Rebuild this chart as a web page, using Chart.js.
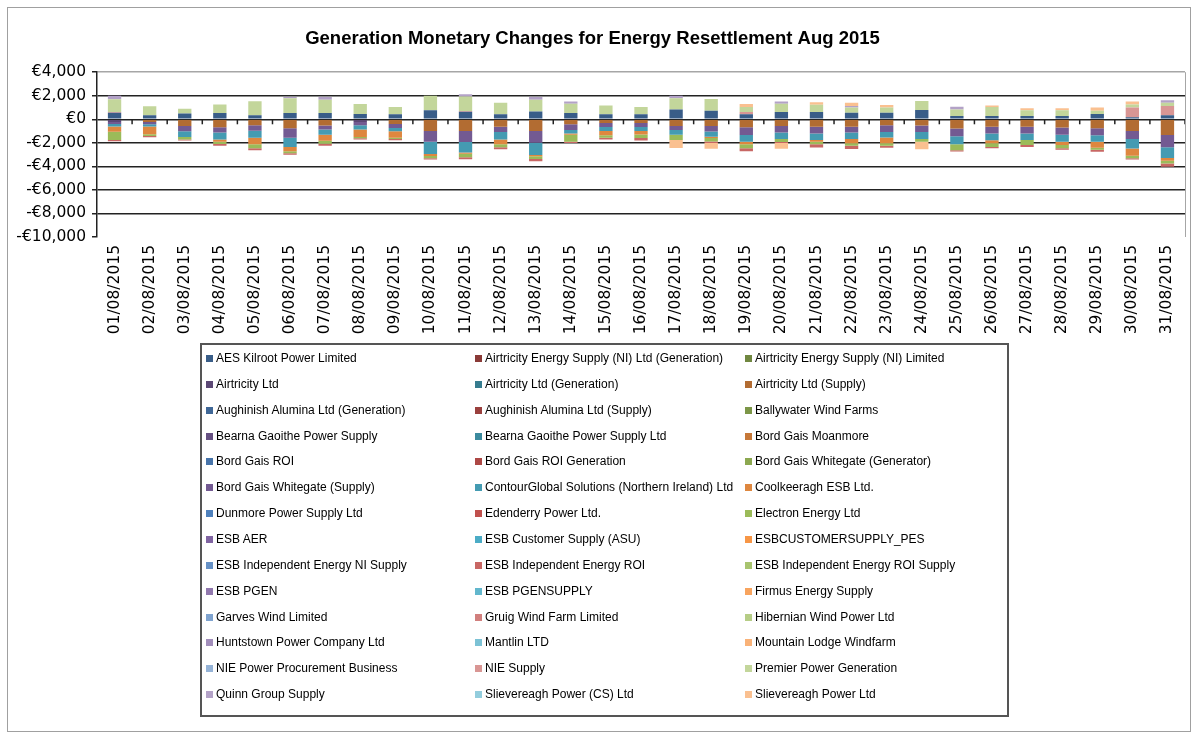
<!DOCTYPE html>
<html>
<head>
<meta charset="utf-8">
<title>Generation Monetary Changes</title>
<script src="https://cdn.jsdelivr.net/npm/chart.js@4.4.1/dist/chart.umd.min.js"></script>
<style>
  html, body { margin: 0; padding: 0; background: #fff; }
  #wrap { position: relative; width: 1198px; height: 738px; overflow: hidden; }
  #frame { position: absolute; left: 7px; top: 7px; width: 1182px; height: 723px; border: 1px solid #a0a0a0; }
  #chart { position: absolute; left: 0; top: 0; }
  #legend { position: absolute; left: 200px; top: 343px; width: 809px; height: 374px; border: 2px solid #555;
            box-sizing: border-box; font-family: "Liberation Sans", Arial, sans-serif; font-size: 12px; color: #000; }
  .item { position: absolute; white-space: nowrap; line-height: 14px; }
  .item span { display: inline-block; width: 7px; height: 7px; margin-right: 3px; vertical-align: 0px; }
</style>
</head>
<body>
<div id="wrap">
  <div id="frame"></div>
  <canvas id="chart" width="1198" height="738"></canvas>
  <div id="legend"></div>
</div>
<script>
const chartTitle = 'Generation Monetary Changes for Energy Resettlement Aug 2015';

const days = ['01/08/2015','02/08/2015','03/08/2015','04/08/2015','05/08/2015','06/08/2015','07/08/2015',
  '08/08/2015','09/08/2015','10/08/2015','11/08/2015','12/08/2015','13/08/2015','14/08/2015','15/08/2015',
  '16/08/2015','17/08/2015','18/08/2015','19/08/2015','20/08/2015','21/08/2015','22/08/2015','23/08/2015',
  '24/08/2015','25/08/2015','26/08/2015','27/08/2015','28/08/2015','29/08/2015','30/08/2015','31/08/2015'];

const seriesNames = [
  'AES Kilroot Power Limited', 'Airtricity  Energy Supply (NI) Ltd (Generation)', 'Airtricity Energy Supply (NI) Limited',
  'Airtricity Ltd', 'Airtricity Ltd (Generation)', 'Airtricity Ltd (Supply)',
  'Aughinish Alumina Ltd (Generation)', 'Aughinish Alumina Ltd (Supply)', 'Ballywater Wind Farms',
  'Bearna Gaoithe Power Supply', 'Bearna Gaoithe Power Supply Ltd', 'Bord Gais Moanmore',
  'Bord Gais ROI', 'Bord Gais ROI Generation', 'Bord Gais Whitegate (Generator)',
  'Bord Gais Whitegate (Supply)', 'ContourGlobal Solutions (Northern Ireland) Ltd', 'Coolkeeragh ESB Ltd.',
  'Dunmore Power Supply Ltd', 'Edenderry Power Ltd.', 'Electron Energy Ltd',
  'ESB AER', 'ESB Customer Supply (ASU)', 'ESBCUSTOMERSUPPLY_PES',
  'ESB Independent Energy NI Supply', 'ESB Independent Energy ROI', 'ESB Independent Energy ROI Supply',
  'ESB PGEN', 'ESB PGENSUPPLY', 'Firmus Energy Supply',
  'Garves Wind Limited', 'Gruig Wind Farm Limited', 'Hibernian Wind Power Ltd',
  'Huntstown Power Company Ltd', 'Mantlin LTD', 'Mountain Lodge Windfarm',
  'NIE Power Procurement Business', 'NIE Supply', 'Premier Power Generation',
  'Quinn Group Supply', 'Slievereagh Power (CS) Ltd', 'Slievereagh Power Ltd'
];

// values (EUR); series not listed show no visible change
const aesKilroot = [560,340,500,530,340,530,530,450,420,760,640,420,670,530,420,420,840,730,420,620,620,560,560,780,280,280,280,280,450,170,340];
const airtricityLtd = [-220,0,0,0,0,0,0,-220,0,0,0,0,0,0,0,0,0,0,0,0,0,0,0,0,0,0,0,0,0,0,0];
const airtricitySupply = [0,-220,-560,-670,-500,-760,-530,0,-390,-1000,-1000,-640,-1000,-420,-310,-310,-560,-560,-670,-560,-640,-640,-500,-530,-780,-640,-640,-700,-760,-1000,-1340];
const whitegateSupply = [-170,-200,-450,-450,-480,-810,-340,-280,-340,-900,-920,-450,-1000,-480,-340,-340,-360,-480,-670,-560,-560,-480,-590,-560,-670,-560,-560,-620,-590,-670,-1040];
const contourGlobal = [-220,-200,-490,-590,-590,-780,-450,-360,-280,-1040,-900,-620,-1040,-310,-340,-340,-390,-450,-560,-560,-560,-560,-450,-590,-670,-590,-560,-590,-560,-810,-900];
const coolkeeragh = [-450,-650,0,-200,-560,-360,-500,-640,-560,-170,-110,-420,-110,-110,-360,-310,0,-110,-220,0,-140,-360,-500,0,0,-250,0,-280,-500,-620,-250];
const electron = [-700,-140,-220,-200,-340,-170,-250,-110,-110,-200,-300,-250,-220,-590,-220,-280,-450,-280,-340,-250,-220,-200,-200,-220,-500,-310,-420,-280,-170,-200,-220];
const esbIndepROI = [-110,-110,-80,-140,-170,-140,-170,-110,-110,-110,-170,-170,-200,-110,-140,-220,0,-140,-250,-80,-280,-280,-170,0,-110,-110,-170,-110,-170,-110,-280];
const nieSupply = [60,0,0,0,0,0,0,0,0,0,60,0,0,0,0,0,0,0,200,0,0,0,0,0,0,0,0,0,0,840,780];
const premierPower = [1090,760,390,730,1200,1260,1120,840,620,1230,1230,980,980,780,760,620,950,1000,420,700,620,450,450,780,560,760,480,480,280,250,280];
const quinnGroup = [280,0,0,0,0,100,250,0,0,0,200,0,250,200,0,0,200,0,0,200,0,110,0,0,220,0,0,0,0,0,220];
const slievereaghPower = [0,0,0,0,0,0,0,0,0,0,0,0,0,0,0,0,-670,-480,250,-500,200,280,200,-640,0,140,170,170,280,250,0];
const noChange = Array(days.length).fill(0);

const valuesByName = {
  'AES Kilroot Power Limited': aesKilroot,
  'Airtricity Ltd': airtricityLtd,
  'Airtricity Ltd (Supply)': airtricitySupply,
  'Bord Gais Whitegate (Supply)': whitegateSupply,
  'ContourGlobal Solutions (Northern Ireland) Ltd': contourGlobal,
  'Coolkeeragh ESB Ltd.': coolkeeragh,
  'Electron Energy Ltd': electron,
  'ESB Independent Energy ROI': esbIndepROI,
  'NIE Supply': nieSupply,
  'Premier Power Generation': premierPower,
  'Quinn Group Supply': quinnGroup,
  'Slievereagh Power Ltd': slievereaghPower
};

// Excel 2007 palette: 6 accents, darker shades first, lighter tints last
const accents = [[79,129,189],[192,80,77],[155,187,89],[128,100,162],[75,172,198],[247,150,70]];
const shadeSteps = [-0.28, -0.2, -0.1, 0, 0.13, 0.27, 0.4];
function seriesColor(i) {
  const base = accents[i % 6];
  const s = shadeSteps[Math.floor(i / 6)];
  const rgb = base.map(c => Math.round(s < 0 ? c * (1 + s) : c + (255 - c) * s));
  return 'rgb(' + rgb.join(',') + ')';
}

const datasets = seriesNames.map((name, i) => ({
  label: name,
  data: valuesByName[name] || noChange,
  backgroundColor: seriesColor(i),
  borderWidth: 0,
  stack: 'gen'
}));

const euro = v => (v < 0 ? '-' : '') + '\u20AC' + Math.abs(v).toLocaleString('en-US');

const categoryTicks = {
  id: 'categoryTicks',
  afterDraw(chart) {
    const { ctx, chartArea, scales: { y } } = chart;
    const y0 = y.getPixelForValue(0);
    const n = chart.data.labels.length;
    const w = chart.chartArea.right - chart.chartArea.left;
    ctx.save();
    ctx.strokeStyle = '#222';
    ctx.lineWidth = 1.5;
    for (let i = 1; i <= n; i++) {
      const px = chartArea.left + w * i / n;
      ctx.beginPath();
      ctx.moveTo(px, y0);
      ctx.lineTo(px, y0 + 5);
      ctx.stroke();
    }
    ctx.strokeStyle = '#a6a6a6';
    ctx.lineWidth = 1;
    ctx.beginPath();
    ctx.moveTo(chartArea.right + 0.5, chartArea.top);
    ctx.lineTo(chartArea.right + 0.5, chartArea.bottom);
    ctx.stroke();
    ctx.restore();
  }
};

const axisFont = { family: 'DejaVu Sans', size: 15.5 };

const chart = new Chart(document.getElementById('chart'), {
  type: 'bar',
  data: { labels: days, datasets: datasets },
  options: {
    responsive: false,
    animation: false,
    layout: { padding: { left: 0, right: 13, top: 0, bottom: 391 } },
    datasets: { bar: { categoryPercentage: 1, barPercentage: 0.38 } },
    plugins: {
      legend: { display: false },
      tooltip: { enabled: false },
      title: {
        display: true,
        text: chartTitle,
        color: '#000',
        font: { family: 'Liberation Sans', size: 18.5, weight: 'bold' },
        padding: { top: 28, bottom: 22 }
      }
    },
    scales: {
      x: {
        stacked: true,
        grid: { display: false, drawTicks: false },
        border: { display: false },
        ticks: { minRotation: 90, maxRotation: 90, autoSkip: false, padding: 8, color: '#000', font: axisFont },
        afterFit(scale) { scale.height = 110; }
      },
      y: {
        stacked: true,
        min: -10000,
        max: 4000,
        ticks: { stepSize: 2000, padding: 6, color: '#000', font: axisFont, callback: v => euro(v) },
        grid: {
          lineWidth: 1.5,
          tickLength: 5,
          tickColor: '#222',
          color: c => c.tick.value === 4000 ? '#a6a6a6' : (c.tick.value === -10000 ? 'rgba(0,0,0,0)' : '#222')
        },
        border: { color: '#222', width: 1.5 },
        afterFit(scale) { scale.width = 97; }
      }
    }
  },
  plugins: [categoryTicks]
});

// three-column legend box built from the chart's datasets
const legendBox = document.getElementById('legend');
const colX = [4, 273, 543];
chart.data.datasets.forEach((ds, i) => {
  const row = Math.floor(i / 3), col = i % 3;
  const item = document.createElement('div');
  item.className = 'item';
  item.style.left = colX[col] + 'px';
  item.style.top = (6 + row * 25.85) + 'px';
  const sw = document.createElement('span');
  sw.style.background = ds.backgroundColor;
  item.appendChild(sw);
  item.appendChild(document.createTextNode(ds.label));
  legendBox.appendChild(item);
});
</script>
</body>
</html>
